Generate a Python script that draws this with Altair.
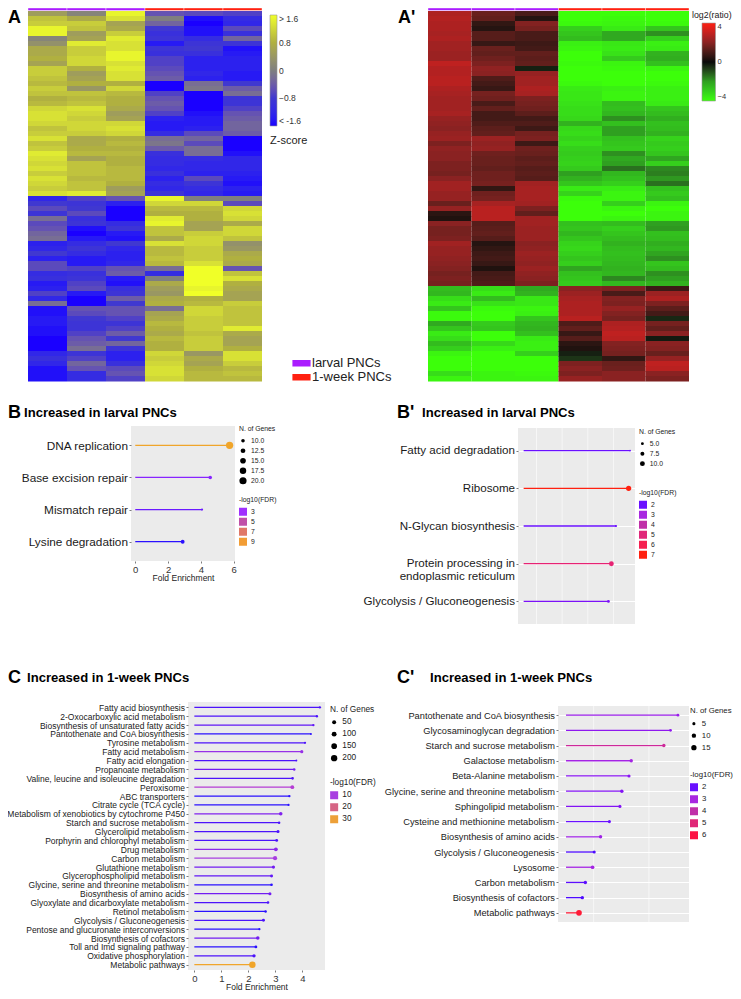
import altair as alt
import pandas as pd

FONT = "Liberation Sans"

# ---------- heatmap A: z-score x10, rows top to bottom ----------
A1 = [5,10,11,15,15,1,3,7,7,8,6,11,11,10,9,11,10,8,9,12,13,13,12,10,11,13,10,11,14,13,12,13,11,13,12,11,13,
      -12,-8,-6,-9,-2,-6,-5,-3,-2,-13,-12,-8,-13,-6,-6,-11,-10,-14,-13,-7,-12,-2,-15,-15,-14,-14,-15,-15,-16,-16,-16,-12,-10,-12,-15,-15,-15]
A2 = [1,7,11,10,5,6,14,11,11,12,12,8,5,6,8,4,10,9,10,13,12,11,12,12,11,7,7,8,9,6,10,10,10,9,10,10,14,
      -7,-9,-8,-6,-10,-9,-15,-16,-14,-11,-9,-11,-14,-14,-7,-10,-9,-7,-6,-14,-16,-16,-5,-6,-8,-9,-9,-7,-5,-4,-2,-9,-7,-3,-5,-11,-11]
A3 = [15,13,6,7,11,14,13,13,15,15,13,14,13,13,8,12,9,8,8,7,5,6,12,13,12,8,9,8,9,8,8,9,9,9,8,5,6,
      -5,-13,-16,-16,-16,-11,-9,-14,-15,-8,-12,-13,-13,-12,-5,-4,-14,-15,-10,-9,-4,-8,-5,-5,-7,-9,-7,-4,-8,-3,-9,-13,-13,-10,-6,-5,-7]
A4 = [-5,0,-3,-8,-10,-9,-14,-9,-10,-7,-7,-6,-5,-4,-16,-16,-7,-5,-4,-5,-7,-13,-14,-14,-11,-2,-1,-4,-10,-11,-11,-12,-10,-13,-11,-12,-9,
      15,12,9,8,14,15,10,10,7,13,9,9,10,9,-2,-11,0,7,5,4,7,8,-2,6,7,9,8,7,9,8,8,12,11,12,13,13,12]
A5 = [-6,-15,-16,-15,-15,-11,-9,-8,-10,-13,-13,-13,-12,-13,-2,-1,-16,-16,-16,-16,-15,-14,-14,-13,-6,-3,-6,-2,-2,-11,-12,-12,-13,-6,-9,-11,-12,
      0,12,9,8,8,6,6,11,12,12,11,11,11,13,16,16,16,16,15,16,8,9,12,12,11,11,11,10,11,11,11,4,7,6,8,9,9]
A6 = [-7,-11,-12,-6,-10,-3,-9,-15,-14,-13,-13,-13,-14,-14,-8,-4,-2,-9,-9,-7,-5,-4,-3,-3,-4,-16,-16,-16,-15,-12,-12,-12,-13,-14,-15,-13,-14,
      0,-6,12,13,12,7,12,12,10,3,4,7,8,7,-5,10,13,8,7,6,6,11,10,10,10,10,14,7,6,6,8,13,13,11,9,10,9]

# ---------- heatmap A': log2 ratio x10 ----------
P1 = [26,27,26,26,25,26,24,24,23,23,29,27,27,28,28,26,25,24,24,24,25,22,21,20,22,23,18,21,20,20,18,18,17,20,24,24,22,
      22,15,22,5,3,20,17,17,18,24,22,22,21,20,19,17,18,17,
      -26,-25,-33,-36,-28,-39,-39,-22,-28,-36,-33,-26,-30,-38,-40,-40,-40,-33,-38]
P2 = [15,14,6,4,12,12,7,15,14,16,18,21,20,11,9,7,17,16,10,14,9,9,11,13,14,23,21,22,16,15,15,14,16,16,17,6,16,
      17,25,28,28,28,12,13,14,12,4,6,8,9,7,3,9,10,11,
      -33,-36,-26,-34,-39,-40,-40,-29,-28,-40,-40,-32,-37,-40,-40,-40,-40,-38,-38]
P3 = [10,4,19,17,10,10,8,9,14,13,14,-3,22,24,24,26,25,18,17,16,13,9,11,8,17,18,8,16,15,13,14,12,13,12,24,25,25,
      25,24,18,14,24,24,23,23,23,20,21,23,22,21,23,21,20,18,
      -22,-24,-35,-35,-38,-37,-28,-25,-24,-27,-36,-37,-37,-30,-40,-40,-40,-39,-38]
P4 = [-40,-40,-39,-30,-28,-26,-37,-38,-40,-40,-39,-40,-40,-40,-39,-36,-35,-35,-34,-33,-33,-32,-24,-32,-33,-31,-33,-30,-29,-30,-31,-29,-20,-24,-28,-36,-31,
      -39,-40,-40,-40,-40,-27,-28,-25,-28,-31,-32,-30,-28,-30,-21,-27,-28,-29,
      20,23,25,26,26,26,28,11,14,7,12,5,3,-3,-6,18,20,18,22]
P5 = [-40,-39,-38,-36,-22,-22,-35,-36,-34,-29,-38,-39,-40,-40,-40,-37,-38,-38,-26,-27,-25,-18,-27,-20,-20,-27,-28,-29,-18,-22,-20,-14,-25,-27,-30,-36,-38,
      -38,-30,-38,-40,-38,-26,-30,-28,-26,-24,-26,-27,-26,-25,-24,-25,-17,-25,
      18,10,19,18,22,19,17,26,27,29,28,19,18,17,6,15,16,20,20]
P6 = [-40,-40,-39,-28,-18,-30,-37,-36,-24,-23,-27,-38,-40,-40,-39,-37,-37,-37,-36,-28,-26,-23,-27,-26,-24,-31,-29,-30,-28,-21,-30,-17,-16,-19,-14,-27,-29,
      -27,-38,-40,-38,-38,-20,-19,-27,-26,-23,-25,-21,-18,-28,-26,-18,-20,-24,
      8,23,26,18,13,9,-4,17,14,20,-2,20,19,15,22,29,28,20,18]

GROUPS = ["larval PNCs", "larval PNCs", "larval PNCs", "1-week PNCs", "1-week PNCs", "1-week PNCs"]

# ---------- enrichment panels ----------
B_terms = ["DNA replication", "Base excision repair", "Mismatch repair", "Lysine degradation"]
B_fold = [5.75, 4.57, 4.07, 2.89]
B_genes = [20.5, 10, 7.5, 10.5]
B_fdr = [9.3, 2.7, 2.4, 2.0]

Bp_terms = ["Fatty acid degradation", "Ribosome", "N-Glycan biosynthesis",
            "Protein processing in|endoplasmic reticulum", "Glycolysis / Gluconeogenesis"]
Bp_fold = [10.37, 10.23, 9.0, 8.55, 8.26]
Bp_genes = [3.2, 11, 3.8, 10, 5]
Bp_fdr = [2.0, 7.0, 2.0, 5.2, 2.2]

C_terms = ["Fatty acid biosynthesis", "2-Oxocarboxylic acid metabolism", "Biosynthesis of unsaturated fatty acids",
           "Pantothenate and CoA biosynthesis", "Tyrosine metabolism", "Fatty acid metabolism", "Fatty acid elongation",
           "Propanoate metabolism", "Valine, leucine and isoleucine degradation", "Peroxisome", "ABC transporters",
           "Citrate cycle (TCA cycle)", "Metabolism of xenobiotics by cytochrome P450", "Starch and sucrose metabolism",
           "Glycerolipid metabolism", "Porphyrin and chlorophyl metabolism", "Drug metabolism", "Carbon metabolism",
           "Glutathione metabolism", "Glycerophospholipid metabolism", "Glycine, serine and threonine metabolism",
           "Biosynthesis of amino acids", "Glyoxylate and dicarboxylate metabolism", "Retinol metabolism",
           "Glycolysis / Gluconeogenesis", "Pentose and glucuronate interconversions", "Biosynthesis of cofactors",
           "Toll and Imd signaling pathway", "Oxidative phosphorylation", "Metabolic pathways"]
C_fold = [4.65, 4.54, 4.41, 4.32, 4.10, 3.98, 3.78, 3.70, 3.64, 3.63, 3.52, 3.49, 3.20, 3.14, 3.10, 3.05, 3.02, 2.99,
          2.93, 2.86, 2.86, 2.80, 2.73, 2.64, 2.56, 2.41, 2.35, 2.28, 2.21, 2.15]
C_genes = [18, 18, 18, 12, 16, 32, 12, 20, 22, 45, 18, 16, 40, 20, 30, 26, 45, 60, 32, 28, 22, 30, 22, 20, 28, 16, 40, 25, 35, 215]
C_fdr = [3, 3, 4, 2, 3, 8, 3, 5, 3, 11, 2, 2, 6, 3, 3, 3, 7, 10, 5, 4, 2, 5, 3, 2, 3, 2, 5, 2, 3, 34]

Cp_terms = ["Pantothenate and CoA biosynthesis", "Glycosaminoglycan degradation", "Starch and sucrose metabolism",
            "Galactose metabolism", "Beta-Alanine metabolism", "Glycine, serine and threonine metabolism",
            "Sphingolipid metabolism", "Cysteine and methionine metabolism", "Biosynthesis of amino acids",
            "Glycolysis / Gluconeogenesis", "Lysosome", "Carbon metabolism", "Biosynthesis of cofactors", "Metabolic pathways"]
Cp_fold = [40.5, 37.8, 35.4, 23.6, 22.8, 20.2, 19.5, 15.7, 12.5, 10.2, 9.6, 7.0, 5.9, 4.7]
Cp_genes = [4, 4, 6, 6, 5, 6, 5, 5, 6, 5, 7, 6, 6, 17]
Cp_fdr = [2.7, 2.5, 4.3, 2.9, 2.4, 2.3, 2.3, 2.0, 2.8, 1.8, 2.9, 1.9, 1.8, 6.2]

INDEP = dict(color="independent", size="independent")


def note(text, x, y, size, weight="normal", color="black", align="left"):
    return alt.Chart(pd.DataFrame({"t": [text]})).mark_text(
        align=align, baseline="middle", font=FONT, fontSize=size, fontWeight=weight, color=color
    ).encode(x=alt.value(x), y=alt.value(y), text="t:N")


def spacer():
    return alt.Chart(pd.DataFrame({"v": [0]})).mark_point(opacity=0).encode(
        x=alt.value(0), y=alt.value(0)
    ).properties(width=1, height=1)


def heatmap(columns, width, colors, dom, legend, extra, notes):
    n = len(columns[0])
    rows = [dict(col=c, col2=c + 1, row=r, row2=r + 1.1, v=columns[c][r] / 10)
            for c in range(6) for r in range(n)]
    anno = [dict(col=c, col2=c + 1, row=-0.6, row2=-0.1, g=GROUPS[c]) for c in range(6)]
    xs = alt.Scale(domain=[0, 6], nice=False, zero=False)
    ys = alt.Scale(domain=[-0.6, 74], nice=False, zero=False, reverse=True)
    body = alt.Chart(pd.DataFrame(rows)).mark_rect(strokeWidth=0).encode(
        x=alt.X("col:Q", scale=xs, axis=None), x2="col2:Q",
        y=alt.Y("row:Q", scale=ys, axis=None), y2="row2:Q",
        color=alt.Color("v:Q", scale=alt.Scale(domain=dom, range=colors, clamp=True), legend=legend),
    )
    bar = alt.Chart(pd.DataFrame(anno)).mark_rect(stroke="white", strokeWidth=0.4).encode(
        x=alt.X("col:Q", scale=xs, axis=None), x2="col2:Q",
        y=alt.Y("row:Q", scale=ys, axis=None), y2="row2:Q",
        color=alt.Color("g:N", scale=alt.Scale(domain=["larval PNCs", "1-week PNCs"], range=["#aa1cff", "#ff2010"]),
                        legend=extra),
    )
    return alt.layer(body, bar, *notes).resolve_scale(color="independent").properties(width=width, height=373)


def lollipop(terms, fold, genes, fdr, w, h, xdom, xticks, xfmt, sizedom, sizerange, colordom, colorrange,
             sizevals, sizefmt, fdrvals, legs, labelsize, tick, titlefs, grid, minor, notes):
    df = pd.DataFrame({"term": terms, "fold": fold, "genes": genes, "fdr": fdr})
    xs = alt.Scale(domain=xdom, nice=False, zero=False)
    ys = alt.Scale(type="point", padding=0.6, domain=terms)
    cs = alt.Scale(domain=colordom, range=colorrange)
    yaxis = alt.Axis(title=None, labelFont=FONT, labelFontSize=labelsize, labelColor="#1a1a1a", labelLimit=400,
                     labelExpr="split(datum.label,'|')", labelLineHeight=12.6, labelOverlap=False,
                     tickSize=2, tickColor="#444444", tickWidth=0.7, domain=False, labelPadding=1.5,
                     grid=grid, gridColor="white", gridWidth=1.2)
    xaxis = alt.Axis(title="Fold Enrichment", values=xticks, format=xfmt, labelFont=FONT, labelFontSize=tick,
                     labelColor="#333333", titleFont=FONT, titleFontSize=titlefs, titleFontWeight="normal",
                     titleColor="#222222", titlePadding=0, labelPadding=1, tickSize=2, tickColor="#444444",
                     tickWidth=0.7, domain=False, grid=grid, gridColor="white", gridWidth=1.2, labelFlush=False)
    colorleg = alt.Legend(
        type="symbol", title="-log10(FDR)", orient="none", legendX=legs[0], legendY=legs[2], values=fdrvals,
        symbolType="square", symbolSize=legs[5], symbolStrokeWidth=0, clipHeight=legs[4], rowPadding=0,
        titleFont=FONT, titleFontSize=legs[3], titleFontWeight="normal", titleColor="#222222", titlePadding=3,
        labelFont=FONT, labelFontSize=legs[3], labelColor="#222222")
    layers = []
    if minor:
        layers.append(alt.Chart(pd.DataFrame({"m": minor})).mark_rule(color="white", strokeWidth=0.6).encode(
            x=alt.X("m:Q", scale=xs, axis=None)))
    rule = alt.Chart(df).mark_rule(strokeWidth=1.3).encode(
        x=alt.X("fold:Q", scale=xs, axis=xaxis), x2=alt.datum(0),
        y=alt.Y("term:N", scale=ys, axis=yaxis, sort=terms),
        color=alt.Color("fdr:Q", scale=cs, legend=colorleg),
    )
    dot = alt.Chart(df).mark_circle(opacity=1).encode(
        x=alt.X("fold:Q", scale=xs, axis=xaxis),
        y=alt.Y("term:N", scale=ys, axis=yaxis, sort=terms),
        color=alt.Color("fdr:Q", scale=cs, legend=colorleg),
        size=alt.Size("genes:Q", scale=alt.Scale(domain=sizedom, range=sizerange), legend=alt.Legend(
            title="N. of Genes", orient="none", legendX=legs[0], legendY=legs[1], values=sizevals, format=sizefmt,
            symbolFillColor="black", symbolStrokeWidth=0, clipHeight=legs[4], rowPadding=0,
            titleFont=FONT, titleFontSize=legs[3], titleFontWeight="normal", titleColor="#222222", titlePadding=3,
            labelFont=FONT, labelFontSize=legs[3], labelColor="#222222")),
    )
    layers += [rule, dot]
    return alt.layer(*layers, *notes).properties(width=w, height=h,
                                                 view=alt.ViewBackground(fill="#ebebeb", stroke=None))


# A -------------------------------------------------------------------------
OX, OY = 28, 8
legA = alt.Legend(title="Z-score", orient="none", legendX=270 - OX, legendY=15 - OY, direction="vertical",
                  titleOrient="bottom", gradientLength=111, gradientThickness=7, gradientStrokeColor="#999999",
                  gradientStrokeWidth=0.6, values=[-1.6, -0.8, 0, 0.8, 1.6], tickCount=5,
                  labelExpr="datum.value>=1.6?'> 1.6':datum.value<=-1.6?'< -1.6':datum.value==0?'0':format(datum.value,'.1f')",
                  labelFont=FONT, labelFontSize=8.5, labelColor="#333333", labelOffset=2, labelOverlap=False,
                  titleFont=FONT, titleFontSize=11, titleFontWeight="normal", titleColor="#222222", titlePadding=9)
legG = alt.Legend(title=None, orient="none", legendX=292 - OX, legendY=357 - OY,
                  symbolType="M-1,-0.35H1V0.35H-1Z", symbolSize=330, symbolStrokeWidth=0, rowPadding=0, clipHeight=12.5,
                  labelFont=FONT, labelFontSize=13, labelColor="#222222", labelOffset=1, symbolOpacity=1)
hA = heatmap([A1, A2, A3, A4, A5, A6], 234, ["#1a00ff", "#4038d0", "#7f7f7f", "#b0b040", "#f0ff28"],
             [-1.6, -0.8, 0, 0.8, 1.6], legA, legG,
             [note("A", 8 - OX, 17.5 - OY, 18, "bold")])

# A' ------------------------------------------------------------------------
OXp = 428
legP = alt.Legend(title=None, orient="none", legendX=702 - OXp, legendY=23 - OY, direction="vertical",
                  gradientLength=78, gradientThickness=13.5, gradientStrokeColor="#999999", gradientStrokeWidth=0.6,
                  values=[-4, 0, 4], labelFont=FONT, labelFontSize=7.5, labelColor="#333333", labelOffset=2)
hP = heatmap([P1, P2, P3, P4, P5, P6], 261, ["#3cff0a", "#2fa020", "#0a0a0a", "#8a2222", "#ff2010"],
             [-4, -2, 0, 2, 4], legP, None,
             [note("A'", 398 - OXp, 17.5 - OY, 18, "bold"), note("log2(ratio)", 692 - OXp, 15 - OY, 8.8, color="#222222")])

BLUE_RED = ["#3a08ff", "#6a10ff", "#a828e0", "#c030a8", "#e0287a", "#f52050", "#ff2010"]

# B -------------------------------------------------------------------------
ox, oy = 131, 426
B = lollipop(B_terms, B_fold, B_genes, B_fdr, 104, 135, [-0.26, 6.08], [0, 2, 4, 6], "d", [7, 10, 21], [3, 13, 55],
             [2, 3, 5, 7, 9.3], ["#2a10ff", "#a030ff", "#c050a8", "#e07868", "#f0a52a"],
             [10, 12.5, 15, 17.5, 20], ".1f", [3, 5, 7, 9],
             (239 - ox, 426 - oy, 497 - oy, 6.8, 9.9, 64), 11.8, 9.5, 8.5, False, None,
             [note("B", 8 - ox, 413 - oy, 18, "bold"),
              note("Increased in larval PNCs", 24 - ox, 413 - oy, 13.1, "bold")])

# B' ------------------------------------------------------------------------
ox, oy = 518, 428
Bp = lollipop(Bp_terms, Bp_fold, Bp_genes, Bp_fdr, 117, 196, [-0.55, 10.85], [0, 2.5, 5, 7.5, 10], ".1f",
              [3, 5, 12], [2.5, 8, 30], [1.8, 2, 3, 4, 5, 6, 7], BLUE_RED, [5, 7.5, 10], ".1f", [2, 3, 4, 5, 6, 7],
              (639 - ox, 429 - oy, 490 - oy, 6.8, 9.7, 64), 11.6, 9, 8.5, True, [1.25, 3.75, 6.25, 8.75],
              [note("B'", 397 - ox, 413 - oy, 18, "bold"),
               note("Increased in larval PNCs", 422 - ox, 413 - oy, 13.1, "bold")])

# C -------------------------------------------------------------------------
ox, oy = 188, 702
C = lollipop(C_terms, C_fold, C_genes, C_fdr, 137, 268, [-0.235, 4.84], [0, 1, 2, 3, 4], "d", [10, 50, 220],
             [3, 16, 43], [2, 10, 20, 30, 34], ["#2a10ff", "#a83fe0", "#d66585", "#eda038", "#f0a52a"],
             [50, 100, 150, 200], "d", [10, 20, 30],
             (330 - ox, 705 - oy, 778 - oy, 8.3, 11.7, 64), 8.5, 9.5, 8.5, False, None,
             [note("C", 8 - ox, 678 - oy, 18, "bold"),
              note("Increased in 1-week PNCs", 27 - ox, 678 - oy, 13.1, "bold")])

# C' ------------------------------------------------------------------------
ox, oy = 558, 706
Cp = lollipop(Cp_terms, Cp_fold, Cp_genes, Cp_fdr, 131, 216, [-2.9, 44.5], [0, 20, 40], "d", [3, 18], [6, 34],
              [1.7, 2, 3, 4, 5, 6.3], ["#3a08ff", "#6a10ff", "#a828e0", "#c030a8", "#e02878", "#ff2030"],
              [5, 10, 15], "d", [2, 3, 4, 5, 6],
              (690 - ox, 707 - oy, 770.5 - oy, 7.8, 11.7, 64), 9.25, 9.5, 8.5, True, [10, 30],
              [note("C'", 397 - ox, 678 - oy, 18, "bold"),
               note("Increased in 1-week PNCs", 430 - ox, 678 - oy, 13.1, "bold")])


def shifted(offset, chart):
    return alt.hconcat(spacer(), chart, spacing=offset - 1, bounds="flush").resolve_scale(**INDEP)


left = alt.vconcat(hA, alt.vconcat(shifted(103, B), shifted(160, C), spacing=276, bounds="flush").resolve_scale(**INDEP),
                   spacing=45, bounds="flush").resolve_scale(**INDEP)
right = alt.vconcat(hP, alt.vconcat(shifted(90, Bp), shifted(130, Cp), spacing=278, bounds="flush").resolve_scale(**INDEP),
                    spacing=47, bounds="flush").resolve_scale(**INDEP)
chart = alt.hconcat(left, right, spacing=400, bounds="flush").resolve_scale(**INDEP).properties(
    autosize=alt.AutoSizeParams(type="none"),
    padding={"left": 20, "top": 0, "right": 705, "bottom": 983},
).configure_view(stroke=None)

chart.save("out.html", embed_options={"renderer": "svg", "actions": False})
